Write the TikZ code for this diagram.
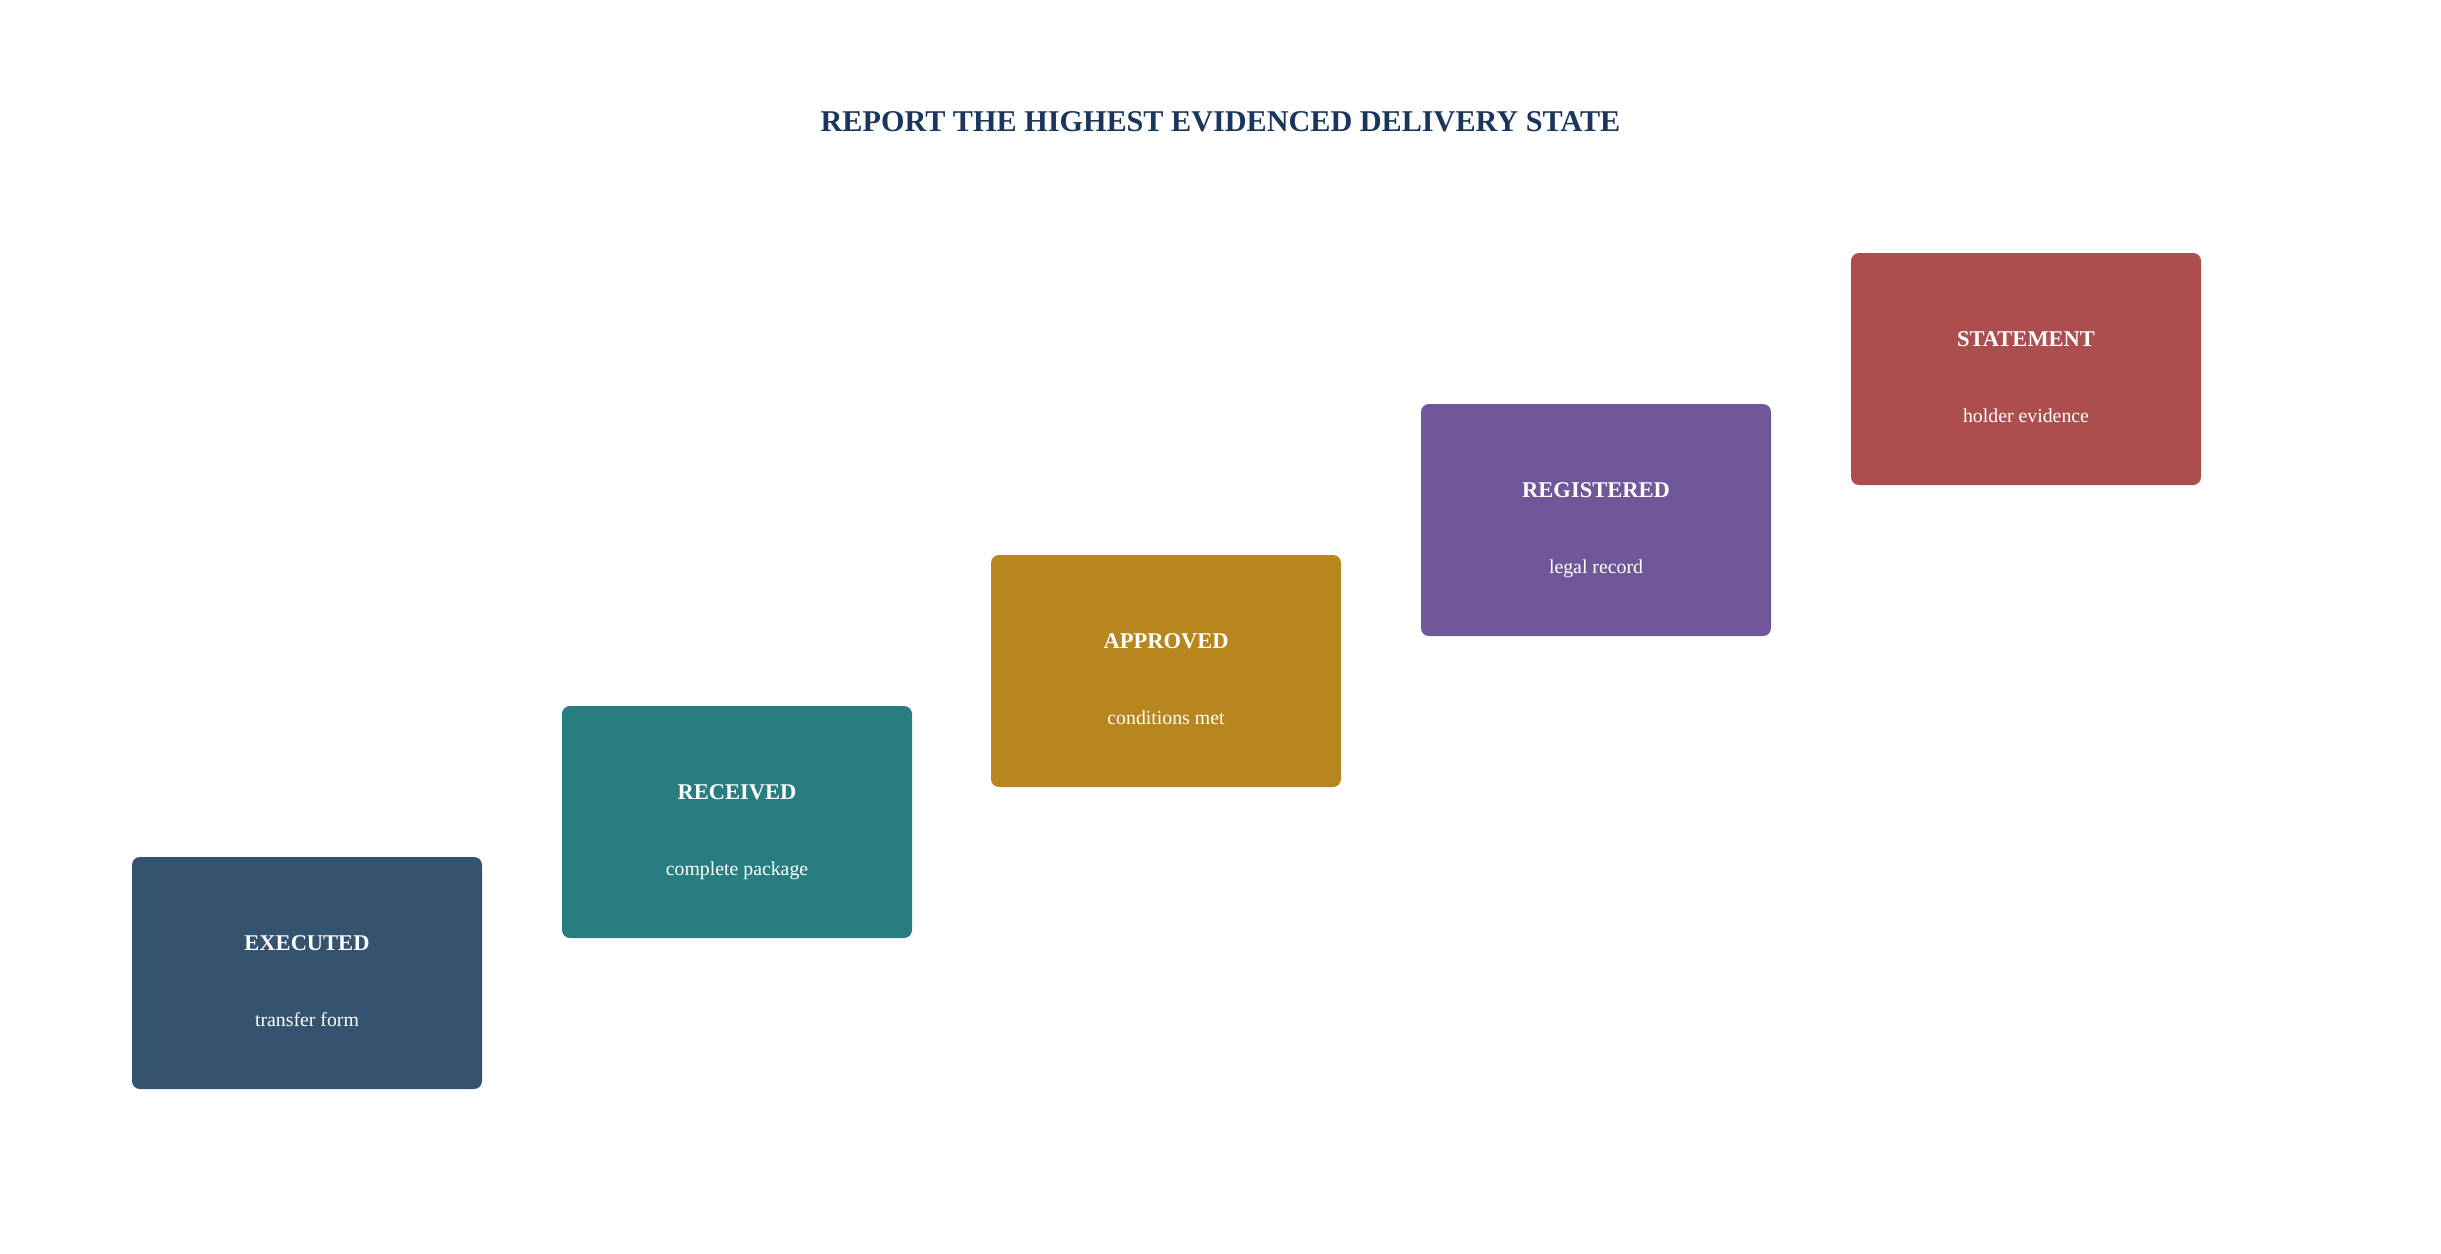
\documentclass[tikz,border=0pt]{standalone}
\usepackage{fontspec}
\setmainfont{Liberation Serif}

\definecolor{titleblue}{HTML}{1B365D}
\definecolor{execblue}{HTML}{34536E}
\definecolor{recvteal}{HTML}{277D80}
\definecolor{apprgold}{HTML}{B8861F}
\definecolor{regpurple}{HTML}{70579A}
\definecolor{statred}{HTML}{AD4E4E}

\begin{document}
\begin{tikzpicture}
  [x=1pt,y=1pt,
   stage/.style={rectangle, rounded corners=4pt, draw=none, minimum width=175pt, minimum height=116pt, inner sep=0pt},
   stagename/.style={text=white, anchor=base, inner sep=0pt, font=\fontsize{11.25}{13}\selectfont\bfseries},
   stagenote/.style={text=white, anchor=base, inner sep=0pt, font=\fontsize{9.9}{12}\selectfont}]

  \useasboundingbox (0,0) rectangle (1220.5,-626.5);

  %%%%%%%%%%%%%%%%%%%%%% TITLE %%%%%%%%%%%%%%%%%%%%%%
  \node[text=titleblue, font=\fontsize{15.1}{18}\selectfont\bfseries] (title) at (610.25,-61)
    {REPORT THE HIGHEST EVIDENCED DELIVERY STATE};

  %%%%%%%%%%%%%%%%%%%%%% STAGES %%%%%%%%%%%%%%%%%%%%%%
  \node[stage, fill=execblue]  (st1) at (153.5,-486.5) {};
  \node[stage, fill=recvteal]  (st2) at (368.5,-411)   {};
  \node[stage, fill=apprgold]  (st3) at (583,-335.5)   {};
  \node[stage, fill=regpurple] (st4) at (798,-260)     {};
  \node[stage, fill=statred]   (st5) at (1013,-184.5)  {};

  \foreach \st/\stname/\stnote in {st1/EXECUTED/transfer form, st2/RECEIVED/complete package,
      st3/APPROVED/conditions met, st4/REGISTERED/legal record, st5/STATEMENT/holder evidence}
  {
    \node[stagename] (\st_name) at ([yshift=11.5pt]\st.center)  {\stname};
    \node[stagenote] (\st_note) at ([yshift=-26.5pt]\st.center) {\stnote};
  }
\end{tikzpicture}
\end{document}
